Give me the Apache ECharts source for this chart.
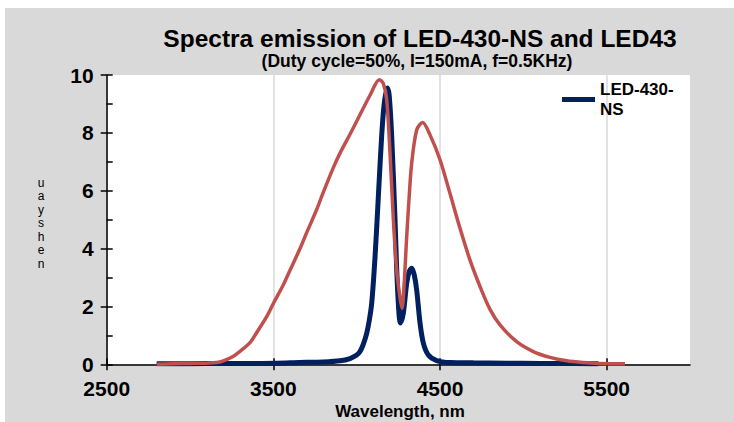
<!DOCTYPE html>
<html>
<head>
<meta charset="utf-8">
<script src="https://cdn.jsdelivr.net/npm/echarts@6/dist/echarts.min.js"></script>
<style>
html,body{margin:0;padding:0;background:#fff;}
#chart{width:734px;height:422px;}
</style>
</head>
<body>
<div id="chart"></div>
<script>
// ---- data ----
const xTickLabels = [2500, 3500, 4500, 5500];
const yTickLabels = [0, 2, 4, 6, 8, 10];

const blueName = 'LED-430-NS';
const blueX = [2800, 3000, 3200, 3400, 3600, 3700, 3800, 3900, 3960, 4000, 4020, 4040, 4060, 4075, 4090, 4110, 4130, 4150, 4165, 4184, 4195, 4210, 4230, 4240, 4252, 4262, 4280, 4300, 4315, 4330, 4345, 4360, 4380, 4400, 4430, 4480, 4560, 4700, 4900, 5100, 5300, 5450];
const blueY = [0.02, 0.02, 0.03, 0.03, 0.05, 0.07, 0.08, 0.12, 0.2, 0.32, 0.44, 0.7, 1.07, 1.5, 2.1, 3.7, 5.8, 7.9, 9.0, 9.55, 9.3, 7.9, 5.0, 3.3, 1.9, 1.43, 1.77, 2.8, 3.2, 3.32, 3.1, 2.57, 1.43, 0.73, 0.32, 0.13, 0.06, 0.05, 0.04, 0.03, 0.03, 0.02];

const redName = 'LED43';
const redX = [2800, 2900, 3000, 3100, 3160, 3200, 3258, 3300, 3360, 3400, 3460, 3500, 3560, 3600, 3660, 3700, 3760, 3800, 3860, 3900, 3960, 4000, 4080, 4136, 4160, 4180, 4200, 4220, 4240, 4260, 4272, 4285, 4300, 4315, 4330, 4360, 4396, 4440, 4500, 4560, 4620, 4680, 4740, 4800, 4860, 4960, 5060, 5160, 5260, 5360, 5450, 5610];
const redY = [0.0, 0.02, 0.03, 0.04, 0.06, 0.12, 0.27, 0.45, 0.75, 1.1, 1.65, 2.1, 2.75, 3.25, 4.0, 4.55, 5.35, 5.95, 6.8, 7.3, 7.95, 8.4, 9.3, 9.84, 9.7, 9.15, 7.3, 5.0, 3.26, 2.3, 1.94, 2.8, 4.4, 5.8, 6.95, 8.1, 8.36, 7.93, 7.07, 5.9, 4.7, 3.6, 2.69, 1.9, 1.36, 0.78, 0.44, 0.24, 0.12, 0.06, 0.03, 0.02];

const titleText = 'Spectra emission of LED-430-NS and LED43';
const subtitleText = '(Duty cycle=50%, I=150mA, f=0.5KHz)';
const xAxisTitle = 'Wavelength, nm';
const yAxisChars = ['u', 'a', 'y', 's', 'h', 'e', 'n'];

// ---- chart ----
const FONT = 'Liberation Sans, Arial, sans-serif';
const chart = echarts.init(document.getElementById('chart'), null, {renderer: 'svg'});

const pairs = (xs, ys) => xs.map((x, i) => [x, ys[i]]);

const option = {
  backgroundColor: '#d9d9d9',
  animation: false,
  grid: {left: 106.7, right: 44, top: 75, bottom: 57.7, show: true, backgroundColor: '#ffffff', borderWidth: 0},
  legend: {
    data: [blueName],
    left: 562, top: 81, padding: 0,
    icon: 'rect', itemWidth: 33, itemHeight: 5,
    formatter: () => 'LED-430-\nNS',
    textStyle: {fontFamily: FONT, fontSize: 17, fontWeight: 'bold', color: '#000', lineHeight: 20, height: 20}
  },
  xAxis: [
    {
      type: 'value', min: 2500, max: 6000, position: 'bottom',
      axisLine: {show: true, onZero: false, lineStyle: {color: '#000', width: 1.5}},
      axisTick: {show: true, length: 6, customValues: xTickLabels, lineStyle: {color: '#000', width: 1.5}},
      axisLabel: {show: true, customValues: xTickLabels, margin: 14, color: '#000', fontFamily: FONT, fontSize: 21, fontWeight: 'bold',
        formatter: v => String(v)},
      splitLine: {show: true, lineStyle: {color: '#d9d9d9', width: 1.5}}
    },
    {
      type: 'value', min: 2500, max: 6000, position: 'bottom',
      axisLine: {show: false},
      axisTick: {show: true, inside: true, length: 6, customValues: xTickLabels, lineStyle: {color: '#000', width: 1.5}},
      axisLabel: {show: false},
      splitLine: {show: false}
    }
  ],
  yAxis: [
    {
      type: 'value', min: 0, max: 10, interval: 2, position: 'left',
      axisLine: {show: true, onZero: false, lineStyle: {color: '#000', width: 1.5}},
      axisTick: {show: true, length: 6, lineStyle: {color: '#000', width: 1.5}},
      axisLabel: {show: true, margin: 13, color: '#000', fontFamily: FONT, fontSize: 21, fontWeight: 'bold',
        formatter: v => (yTickLabels.indexOf(v) >= 0 ? String(v) : '')},
      splitLine: {show: false}
    },
    {
      type: 'value', min: 0, max: 10, interval: 2, position: 'left',
      axisLine: {show: false},
      axisTick: {show: true, inside: true, length: 6, lineStyle: {color: '#000', width: 1.5}},
      minorTick: {show: true, splitNumber: 2, length: 6, lineStyle: {color: '#000', width: 1.5}},
      axisLabel: {show: false},
      splitLine: {show: false}
    }
  ],
  series: [
    {
      name: blueName, type: 'line', xAxisIndex: 0, yAxisIndex: 0,
      data: pairs(blueX, blueY), showSymbol: false, symbol: 'none', smooth: 0.3,
      itemStyle: {color: '#002060'},
      lineStyle: {color: '#002060', width: 5}, z: 2
    },
    {
      name: redName, type: 'line', xAxisIndex: 0, yAxisIndex: 0,
      data: pairs(redX, redY), showSymbol: false, symbol: 'none', smooth: 0.3,
      itemStyle: {color: '#c0504d'},
      lineStyle: {color: '#c0504d', width: 3.5}, z: 3
    }
  ],
  graphic: [
    {type: 'rect', shape: {x: 0, y: 0, width: 5, height: 422}, style: {fill: '#ffffff'}, silent: true},
    {type: 'rect', shape: {x: 0, y: 0, width: 734, height: 8}, style: {fill: '#ffffff'}, silent: true},
    {type: 'text', x: 420, y: 38, style: {text: titleText, font: 'bold 24.5px ' + FONT, fill: '#000', textAlign: 'center', textVerticalAlign: 'middle'}},
    {type: 'text', x: 417, y: 61, style: {text: subtitleText, font: 'bold 17.5px ' + FONT, fill: '#000', textAlign: 'center', textVerticalAlign: 'middle'}},
    {type: 'text', x: 400, y: 411.5, style: {text: xAxisTitle, font: 'bold 17px ' + FONT, fill: '#000', textAlign: 'center', textVerticalAlign: 'middle'}},
    {type: 'text', x: 41, y: 176, style: {text: yAxisChars.join('\n'), font: '12px ' + FONT, lineHeight: 13.5, fill: '#000', textAlign: 'center', textVerticalAlign: 'top'}}
  ]
};
chart.setOption(option);
</script>
</body>
</html>
